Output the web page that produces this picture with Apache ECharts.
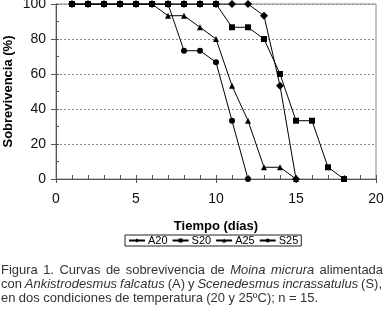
<!DOCTYPE html>
<html>
<head>
<meta charset="utf-8">
<script src="https://cdn.jsdelivr.net/npm/echarts@6/dist/echarts.min.js"></script>
<style>
  html, body { margin: 0; padding: 0; background: #fff; }
  #chart { width: 384px; height: 320px; }
</style>
</head>
<body>
<div id="chart"></div>
<script>
// days of observation (x values)
const days = [1, 2, 3, 4, 5, 6, 7, 8, 9, 10, 11, 12, 13, 14, 15, 16, 17, 18];

// survival (%) per day
const a20 = [100, 100, 100, 100, 100, 100, 100, 100, 100, 100, 100, 100, 93.3, 53.3, 0];
const s20 = [100, 100, 100, 100, 100, 100, 100, 100, 100, 100, 86.7, 86.7, 80, 60, 33.3, 33.3, 6.7, 0];
const a25 = [100, 100, 100, 100, 100, 100, 93.3, 93.3, 86.7, 80, 53.3, 33.3, 6.7, 6.7, 0];
const s25 = [100, 100, 100, 100, 100, 100, 100, 73.3, 73.3, 66.7, 33.3, 0];

const seriesNames = ['A20', 'S20', 'A25', 'S25'];
const seriesSymbols = ['diamond', 'rect', 'triangle', 'circle'];
const seriesValues = [a20, s20, a25, s25];

const xTicks = [0, 5, 10, 15, 20];
const yTicks = [0, 20, 40, 60, 80, 100];

// caption words, [text, italic]
const captionLines = [
  [['Figura', 0], ['1.', 0], ['Curvas', 0], ['de', 0], ['sobrevivencia', 0], ['de', 0], ['Moina', 1], ['micrura', 1], ['alimentada', 0]],
  [['con', 0], ['Ankistrodesmus', 1], ['falcatus', 1], ['(A)', 0], ['y', 0], ['Scenedesmus', 1], ['incrassatulus', 1], ['(S),', 0]],
  [['en', 0], ['dos', 0], ['condiciones', 0], ['de', 0], ['temperatura', 0], ['(20', 0], ['y', 0], ['25ºC);', 0], ['n', 0], ['=', 0], ['15.', 0]]
];

const chart = echarts.init(document.getElementById('chart'));

const capFont = '"Liberation Sans", Arial, sans-serif';
const capSize = 13.5;
const capScale = 0.96;
const capTops = [270, 284, 298];
const capLeft = 1;
const capRights = [383, 382, 318];

function buildCaption() {
  const ctx = document.createElement('canvas').getContext('2d');
  const items = [];
  captionLines.forEach((words, li) => {
    const widths = words.map(w => {
      ctx.font = (w[1] ? 'italic ' : '') + capSize + 'px ' + capFont;
      return ctx.measureText(w[0]).width * capScale;
    });
    const total = widths.reduce((a, b) => a + b, 0);
    const gap = (capRights[li] - capLeft - total) / (words.length - 1);
    let x = capLeft;
    words.forEach((w, i) => {
      items.push({
        type: 'text',
        x: x,
        y: capTops[li],
        scaleX: capScale,
        style: {
          text: w[0],
          fontSize: capSize,
          fontFamily: capFont,
          fontStyle: w[1] ? 'italic' : 'normal',
          fill: '#333',
          verticalAlign: 'middle'
        }
      });
      x += widths[i] + gap;
    });
  });
  return items;
}

const axisColor = '#555';

const option = {
  animation: false,
  grid: {
    left: 56,
    right: 8,
    top: 4,
    bottom: 141,
    outerBoundsMode: 'none',
    containLabel: false,
    show: true,
    borderColor: '#8a8a8a',
    borderWidth: 1
  },
  xAxis: [
    {
      type: 'value',
      min: xTicks[0],
      max: xTicks[xTicks.length - 1],
      interval: 5,
      name: 'Tiempo (días)',
      nameLocation: 'middle',
      nameGap: 41,
      nameMoveOverlap: false,
      nameTextStyle: { fontSize: 13, fontWeight: 'bold', color: '#000', fontFamily: 'Liberation Sans, Arial' },
      axisLine: { lineStyle: { color: axisColor, width: 1 } },
      axisTick: { inside: false, length: 4, lineStyle: { color: axisColor } },
      axisLabel: { fontSize: 14, color: '#111', margin: 13, fontFamily: 'Liberation Sans, Arial' },
      splitLine: { show: false }
    },
    {
      type: 'value',
      min: 0,
      max: 20,
      interval: 1,
      position: 'bottom',
      axisLine: { show: false },
      axisTick: { inside: true, length: 4, lineStyle: { color: axisColor } },
      axisLabel: { show: false },
      splitLine: { show: false }
    }
  ],
  yAxis: [
    {
      type: 'value',
      min: yTicks[0],
      max: yTicks[yTicks.length - 1],
      interval: 20,
      name: 'Sobrevivencia (%)',
      nameLocation: 'middle',
      nameGap: 41,
      nameMoveOverlap: false,
      nameTextStyle: { fontSize: 13, fontWeight: 'bold', color: '#000', fontFamily: 'Liberation Sans, Arial' },
      axisLine: { show: true, lineStyle: { color: axisColor, width: 1 } },
      axisTick: { show: true, inside: false, length: 5, lineStyle: { color: axisColor } },
      axisLabel: { fontSize: 14, color: '#111', margin: 10, fontFamily: 'Liberation Sans, Arial' },
      splitLine: { show: true, lineStyle: { color: '#8a8a8a', type: [2, 2], width: 1 } }
    },
    {
      type: 'value',
      min: 0,
      max: 100,
      interval: 10,
      position: 'left',
      axisLine: { show: false },
      axisTick: { show: true, inside: true, length: 3, lineStyle: { color: axisColor } },
      axisLabel: { show: false },
      splitLine: { show: false }
    }
  ],
  legend: {
    left: 125,
    top: 235,
    data: seriesNames,
    borderColor: '#222',
    borderWidth: 1,
    padding: [0, 3, 0, 3],
    itemGap: 4,
    itemWidth: 16,
    itemHeight: 5,
    textStyle: { fontSize: 11, color: '#000', fontFamily: 'Liberation Sans, Arial', padding: [0, 0, 0, -2] }
  },
  series: seriesNames.map((name, k) => ({
    name: name,
    type: 'line',
    xAxisIndex: 0,
    yAxisIndex: 0,
    data: seriesValues[k].map((v, i) => [days[i], v]),
    symbol: seriesSymbols[k],
    symbolSize: k === 0 ? 8 : 6,
    color: '#000',
    lineStyle: { color: '#000', width: 1 },
    itemStyle: { color: '#000' }
  })),
  graphic: buildCaption()
};

chart.setOption(option);
</script>
</body>
</html>
